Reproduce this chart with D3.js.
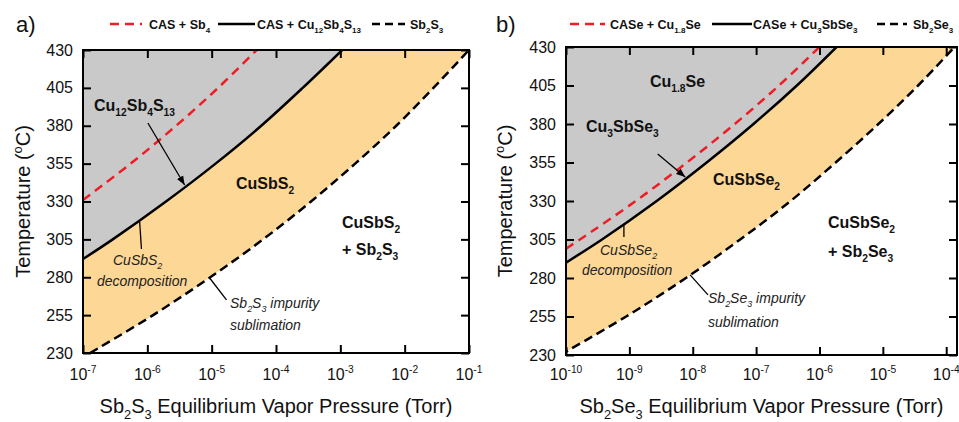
<!DOCTYPE html>
<html>
<head>
<meta charset="utf-8">
<script src="https://cdn.jsdelivr.net/npm/d3@7"></script>
<style>
  body { margin: 0; background: #fff; }
  svg { font-family: "Liberation Sans", Arial, sans-serif; }
</style>
</head>
<body>
<script>
// canvas
var width = 959;
var height = 422;

// ---- data ----
// temperature ticks (deg C)
var tempTicks = [230, 255, 280, 305, 330, 355, 380, 405, 430];

// panel a: Cu-Sb-S
var aExp = [-7, -6, -5, -4, -3, -2, -1];
var aCasSb4T = [331, 355, 380, 405, 430];
var aCasSb4P = [1.0e-7, 5.5e-7, 2.8e-6, 1.26e-5, 5.0e-5];
var aCasCuT = [292, 305, 330, 355, 380, 405, 430];
var aCasCuP = [1.0e-7, 2.9e-7, 1.95e-6, 1.15e-5, 5.9e-5, 2.6e-4, 1.07e-3];
var aSbT = [230, 255, 280, 305, 330, 355, 380, 405, 430];
var aSbP = [1.29e-7, 1.23e-6, 9.5e-6, 6.3e-5, 3.5e-4, 1.7e-3, 7.4e-3, 2.8e-2, 1.0e-1];
var aLegend = ["CAS + Sb_{4}", "CAS + Cu_{12}Sb_{4}S_{13}", "Sb_{2}S_{3}"];

// panel b: Cu-Sb-Se
var bExp = [-10, -9, -8, -7, -6, -5, -4];
var bCaseCuSeT = [299, 305, 330, 355, 380, 405, 430];
var bCaseCuSeP = [1.0e-10, 1.66e-10, 1.26e-9, 8.1e-9, 4.6e-8, 2.3e-7, 1.0e-6];
var bCaseCu3T = [290, 305, 330, 355, 380, 405, 430];
var bCaseCu3P = [1.0e-10, 3.7e-10, 2.7e-9, 1.66e-8, 9.1e-8, 4.4e-7, 1.86e-6];
var bSbT = [230, 255, 280, 305, 330, 355, 380, 405, 430];
var bSbP = [8.1e-11, 8.9e-10, 7.8e-9, 5.6e-8, 3.5e-7, 1.8e-6, 8.5e-6, 3.6e-5, 1.35e-4];
var bLegend = ["CASe + Cu_{1.8}Se", "CASe + Cu_{3}SbSe_{3}", "Sb_{2}Se_{3}"];

var GRAY = "#c9c9c9", ORANGE = "#fdd796", RED = "#ee1c24";

var svg = d3.select("body").append("svg")
  .attr("width", width)
  .attr("height", height);

// text with _{sub} and ^{sup}
function rich(sel, str, size) {
  var re = /([_^])\{([^}]*)\}|([^_^]+)/g, m, off = 0;
  while ((m = re.exec(str))) {
    if (m[3]) {
      sel.append("tspan").attr("dy", -off).attr("font-size", size).text(m[3]);
      off = 0;
    } else {
      var t = m[1] === "_" ? size * 0.32 : -size * 0.42;
      sel.append("tspan").attr("dy", t - off).attr("font-size", size * 0.64).text(m[2]);
      off = t;
    }
  }
  return sel;
}

function label(g, x, y, str, size, opts) {
  opts = opts || {};
  var t = g.append("text").attr("x", x).attr("y", y)
    .attr("font-weight", opts.bold ? "bold" : null)
    .attr("font-style", opts.italic ? "italic" : null)
    .attr("fill", opts.fill || "#111")
    .attr("text-anchor", opts.anchor || "start");
  return rich(t, str, size);
}

svg.append("defs").append("marker")
  .attr("id", "arr").attr("viewBox", "0 0 10 10")
  .attr("refX", 10).attr("refY", 5)
  .attr("markerWidth", 9).attr("markerHeight", 9)
  .attr("markerUnits", "userSpaceOnUse")
  .attr("orient", "auto")
  .append("path").attr("d", "M0,1 L10,5 L0,9 Z").attr("fill", "#000");

function panel(cfg) {
  var x = d3.scaleLog().domain(cfg.xDomain).range([cfg.left, cfg.right]);
  var y = d3.scaleLinear().domain([230, 430]).range([cfg.bottom, cfg.top]);
  var g = svg.append("g");

  var clipId = "clip" + cfg.id;
  svg.select("defs").append("clipPath").attr("id", clipId)
    .append("rect").attr("x", cfg.left).attr("y", cfg.top)
    .attr("width", cfg.right - cfg.left).attr("height", cfg.bottom - cfg.top);

  var pts = function (P, T) { return P.map(function (p, i) { return [p, T[i]]; }); };
  var red = pts(cfg.redP, cfg.redT);
  var solid = pts(cfg.solidP, cfg.solidT);
  var dash = pts(cfg.dashP, cfg.dashT);
  var pmin = cfg.xDomain[0];

  var line = d3.line().x(function (d) { return x(d[0]); }).y(function (d) { return y(d[1]); })
    .curve(d3.curveCatmullRom);
  var cont = function (d) { return line(d).replace(/^M/, "L"); };

  var inner = g.append("g").attr("clip-path", "url(#" + clipId + ")");

  // gray: above / left of the solid line
  inner.append("path")
    .attr("d", "M" + x(pmin) + "," + y(430) + cont(solid) + "Z")
    .attr("fill", GRAY);
  // orange: between the solid and dashed lines
  inner.append("path")
    .attr("d", line(solid) + "L" + x(dash[dash.length - 1][0]) + "," + y(430) +
      cont(dash.slice().reverse()) +
      "L" + x(pmin) + "," + y(230) + "Z")
    .attr("fill", ORANGE);

  inner.append("path").attr("d", line(red)).attr("fill", "none")
    .attr("stroke", RED).attr("stroke-width", 2.5).attr("stroke-dasharray", "9,6");
  inner.append("path").attr("d", line(solid)).attr("fill", "none")
    .attr("stroke", "#000").attr("stroke-width", 2.5);
  inner.append("path").attr("d", line(dash)).attr("fill", "none")
    .attr("stroke", "#000").attr("stroke-width", 2.5).attr("stroke-dasharray", "9,5");

  // axes with inward ticks on all sides
  var xt = cfg.exps.map(function (e) { return Math.pow(10, e); });
  var axes = [
    [d3.axisBottom(x).tickValues(xt), "translate(0," + cfg.bottom + ")"],
    [d3.axisTop(x).tickValues(xt), "translate(0," + cfg.top + ")"],
    [d3.axisLeft(y).tickValues(tempTicks), "translate(" + cfg.left + ",0)"],
    [d3.axisRight(y).tickValues(tempTicks), "translate(" + cfg.right + ",0)"]
  ];
  axes.forEach(function (a) {
    var ax = g.append("g").attr("transform", a[1])
      .call(a[0].tickSizeInner(-8).tickSizeOuter(0).tickFormat(""));
    ax.select(".domain").remove();
    ax.selectAll(".tick line").attr("stroke-width", 2);
  });
  g.append("rect").attr("x", cfg.left).attr("y", cfg.top)
    .attr("width", cfg.right - cfg.left).attr("height", cfg.bottom - cfg.top)
    .attr("fill", "none").attr("stroke", "#000").attr("stroke-width", 2);

  // tick labels
  tempTicks.forEach(function (t) {
    g.append("text").attr("x", cfg.left - 10).attr("y", y(t) + 5.5)
      .attr("text-anchor", "end").attr("font-size", 16).attr("fill", "#111").text(t);
  });
  cfg.exps.forEach(function (e) {
    label(g, x(Math.pow(10, e)), 380, "10^{" + e + "}", 16, { anchor: "middle" });
  });

  // axis titles
  label(g, (cfg.left + cfg.right) / 2, 413, cfg.xTitle, 20, { anchor: "middle" });
  var yt = g.append("text").attr("transform", "translate(" + cfg.yTitleX + "," + ((cfg.top + cfg.bottom) / 2) + ") rotate(-90)")
    .attr("text-anchor", "middle").attr("fill", "#111");
  rich(yt, "Temperature (^{o}C)", 20);

  // panel letter
  g.append("text").attr("x", cfg.letterX).attr("y", 32).attr("font-size", 22)
    .attr("fill", "#111").text(cfg.letter);

  // legend
  var lg = cfg.legend;
  [[RED, "9,6"], ["#000", null], ["#000", "8,5"]].forEach(function (s, i) {
    g.append("line").attr("x1", lg[i][0]).attr("x2", lg[i][1]).attr("y1", 24).attr("y2", 24)
      .attr("stroke", s[0]).attr("stroke-width", 2.5).attr("stroke-dasharray", s[1]);
    label(g, lg[i][2], 29, cfg.legendText[i], 12.5, { bold: true });
  });

  // pointer lines (data coordinates)
  cfg.pointers.forEach(function (p) {
    g.append("line")
      .attr("x1", x(p[0])).attr("y1", y(p[1])).attr("x2", x(p[2])).attr("y2", y(p[3]))
      .attr("stroke", "#000").attr("stroke-width", 1.3)
      .attr("marker-end", p[4] ? "url(#arr)" : null);
  });

  cfg.labels.forEach(function (l) {
    label(g, l[0], l[1], l[2], l[3], l[4]);
  });
}

panel({
  id: "a", letter: "a)", letterX: 16,
  left: 83, right: 469, top: 50, bottom: 353,
  xDomain: [1e-7, 1e-1], exps: aExp,
  redP: aCasSb4P, redT: aCasSb4T,
  solidP: aCasCuP, solidT: aCasCuT,
  dashP: aSbP, dashT: aSbT,
  xTitle: "Sb_{2}S_{3} Equilibrium Vapor Pressure (Torr)", yTitleX: 30,
  legend: [[110, 142, 149], [218, 255, 257], [372, 405, 410]],
  legendText: aLegend,
  pointers: [
    [1.02e-6, 381.8, 3.8e-6, 340.9, true],
    [7.6e-7, 316.5, 8.1e-7, 298.6, false],
    [9.3e-6, 279.5, 1.7e-5, 265, false]
  ],
  labels: [
    [94, 111, "Cu_{12}Sb_{4}S_{13}", 16, { bold: true }],
    [236, 189, "CuSbS_{2}", 16, { bold: true }],
    [342, 228, "CuSbS_{2}", 16, { bold: true }],
    [342, 255, "+ Sb_{2}S_{3}", 16, { bold: true }],
    [113, 265, "CuSbS_{2}", 14, { italic: true, fill: "#222" }],
    [97, 286, "decomposition", 14, { italic: true, fill: "#222" }],
    [230, 308, "Sb_{2}S_{3} impurity", 14, { italic: true, fill: "#222" }],
    [230, 330, "sublimation", 14, { italic: true, fill: "#222" }]
  ]
});

panel({
  id: "b", letter: "b)", letterX: 496,
  left: 566, right: 957, top: 47, bottom: 355,
  xDomain: [1e-10, 1.48e-4], exps: bExp,
  redP: bCaseCuSeP, redT: bCaseCuSeT,
  solidP: bCaseCu3P, solidT: bCaseCu3T,
  dashP: bSbP, dashT: bSbT,
  xTitle: "Sb_{2}Se_{3} Equilibrium Vapor Pressure (Torr)", yTitleX: 512,
  legend: [[570, 605, 610], [712, 752, 753], [877, 907, 913]],
  legendText: bLegend,
  pointers: [
    [2.8e-9, 360.5, 7.6e-9, 345.6, true],
    [8.2e-10, 314.4, 8.2e-10, 306.6, false],
    [9.1e-9, 282, 1.74e-8, 269, false]
  ],
  labels: [
    [650, 87, "Cu_{1.8}Se", 16, { bold: true }],
    [586, 132, "Cu_{3}SbSe_{3}", 16, { bold: true }],
    [713, 185, "CuSbSe_{2}", 16, { bold: true }],
    [828, 228, "CuSbSe_{2}", 16, { bold: true }],
    [828, 257, "+ Sb_{2}Se_{3}", 16, { bold: true }],
    [600, 255, "CuSbSe_{2}", 14, { italic: true, fill: "#222" }],
    [582, 275, "decomposition", 14, { italic: true, fill: "#222" }],
    [708, 303, "Sb_{2}Se_{3} impurity", 14, { italic: true, fill: "#222" }],
    [708, 327, "sublimation", 14, { italic: true, fill: "#222" }]
  ]
});
</script>
</body>
</html>
